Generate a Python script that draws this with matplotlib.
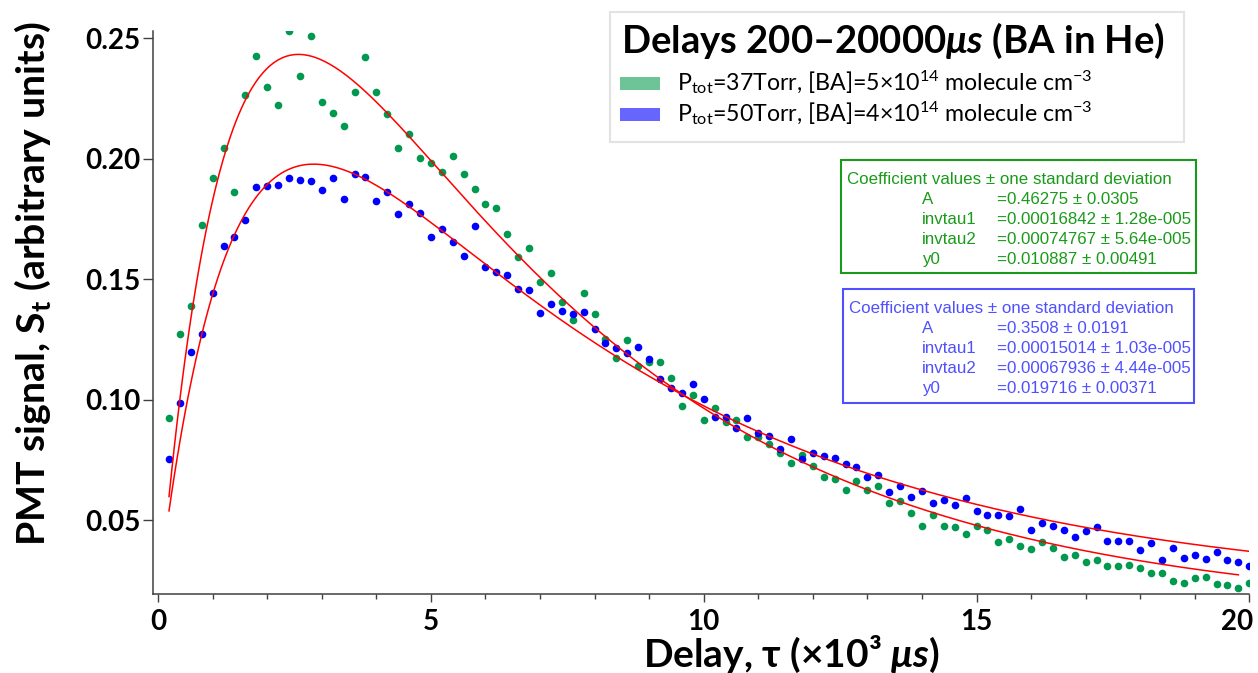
import numpy as np
import matplotlib
matplotlib.use("Agg")
import matplotlib.pyplot as plt
from matplotlib.patches import Rectangle
from matplotlib.ticker import MultipleLocator, FormatStrFormatter
from matplotlib.transforms import ScaledTranslation

# ---------------- data ----------------
delay_k_us = [0.2, 0.4, 0.6, 0.8, 1.0, 1.2, 1.4, 1.6, 1.8, 2.0,
              2.2, 2.4, 2.6, 2.8, 3.0, 3.2, 3.4, 3.6, 3.8, 4.0,
              4.2, 4.4, 4.6, 4.8, 5.0, 5.2, 5.4, 5.6, 5.8, 6.0,
              6.2, 6.4, 6.6, 6.8, 7.0, 7.2, 7.4, 7.6, 7.8, 8.0,
              8.2, 8.4, 8.6, 8.8, 9.0, 9.2, 9.4, 9.6, 9.8, 10.0,
              10.2, 10.4, 10.6, 10.8, 11.0, 11.2, 11.4, 11.6, 11.8, 12.0,
              12.2, 12.4, 12.6, 12.8, 13.0, 13.2, 13.4, 13.6, 13.8, 14.0,
              14.2, 14.4, 14.6, 14.8, 15.0, 15.2, 15.4, 15.6, 15.8, 16.0,
              16.2, 16.4, 16.6, 16.8, 17.0, 17.2, 17.4, 17.6, 17.8, 18.0,
              18.2, 18.4, 18.6, 18.8, 19.0, 19.2, 19.4, 19.6, 19.8, 20.0]

signal_37torr = [0.0923, 0.1273, 0.1388, 0.1727, 0.1919, 0.2046, 0.1861, 0.2263, 0.2427, 0.2297,
                 0.2223, 0.2530, 0.2345, 0.2508, 0.2236, 0.2189, 0.2135, 0.2276, 0.2422, 0.2278,
                 0.2186, 0.2044, 0.2102, 0.2005, 0.1981, 0.1947, 0.2010, 0.1937, 0.1873, 0.1812,
                 0.1797, 0.1688, 0.1591, 0.1630, 0.1490, 0.1526, 0.1407, 0.1332, 0.1443, 0.1355,
                 0.1251, 0.1175, 0.1249, 0.1139, 0.1158, 0.1157, 0.1090, 0.0973, 0.1020, 0.0917,
                 0.0967, 0.0907, 0.0917, 0.0846, 0.0846, 0.0815, 0.0780, 0.0739, 0.0770, 0.0725,
                 0.0678, 0.0671, 0.0627, 0.0663, 0.0627, 0.0644, 0.0571, 0.0580, 0.0529, 0.0476,
                 0.0523, 0.0476, 0.0473, 0.0444, 0.0476, 0.0461, 0.0409, 0.0422, 0.0395, 0.0381,
                 0.0409, 0.0384, 0.0349, 0.0355, 0.0327, 0.0335, 0.0309, 0.0309, 0.0313, 0.0302,
                 0.0280, 0.0280, 0.0248, 0.0241, 0.0261, 0.0263, 0.0236, 0.0230, 0.0218, 0.0240]

signal_50torr = [0.0754, 0.0985, 0.1200, 0.1273, 0.1444, 0.1639, 0.1674, 0.1745, 0.1883, 0.1886,
                 0.1890, 0.1922, 0.1911, 0.1908, 0.1872, 0.1919, 0.1832, 0.1938, 0.1926, 0.1825,
                 0.1861, 0.1770, 0.1811, 0.1774, 0.1676, 0.1709, 0.1656, 0.1598, 0.1721, 0.1551,
                 0.1529, 0.1517, 0.1461, 0.1456, 0.1361, 0.1399, 0.1370, 0.1355, 0.1366, 0.1295,
                 0.1234, 0.1214, 0.1195, 0.1218, 0.1168, 0.1088, 0.1049, 0.1027, 0.1066, 0.1002,
                 0.0930, 0.0930, 0.0884, 0.0923, 0.0861, 0.0851, 0.0795, 0.0837, 0.0754, 0.0778,
                 0.0767, 0.0760, 0.0732, 0.0721, 0.0680, 0.0687, 0.0617, 0.0642, 0.0597, 0.0620,
                 0.0572, 0.0583, 0.0563, 0.0591, 0.0540, 0.0523, 0.0522, 0.0518, 0.0547, 0.0460,
                 0.0489, 0.0478, 0.0460, 0.0431, 0.0457, 0.0473, 0.0415, 0.0415, 0.0415, 0.0377,
                 0.0407, 0.0335, 0.0384, 0.0342, 0.0355, 0.0339, 0.0368, 0.0337, 0.0327, 0.0312]

coef_names = ["A", "invtau1", "invtau2", "y0"]
coef_37torr = ["0.46275", "0.00016842", "0.00074767", "0.010887"]
sdev_37torr = ["0.0305", "1.28e-005", "5.64e-005", "0.00491"]
coef_50torr = ["0.3508", "0.00015014", "0.00067936", "0.019716"]
sdev_50torr = ["0.0191", "1.03e-005", "4.44e-005", "0.00371"]
fit_range_37 = [200, 19800]   # microseconds
fit_range_50 = [200, 20000]

label_37 = r"P$_\mathregular{tot}$=37Torr, [BA]=5×10$^\mathregular{14}$ molecule cm$^\mathregular{-3}$"
label_50 = r"P$_\mathregular{tot}$=50Torr, [BA]=4×10$^\mathregular{14}$ molecule cm$^\mathregular{-3}$"
legend_title = r"Delays 200–20000$\mathbfit{\mu s}$ (BA in He)"
xlabel = r"Delay, τ (×10³ $\mathbfit{\mu s}$)"
ylabel = r"PMT signal, S$_\mathbf{t}$ (arbitrary units)"

# ---------------- style ----------------
FAM = ["Lato", "DejaVu Sans"]
plt.rcParams["font.family"] = FAM
plt.rcParams["font.weight"] = "bold"
plt.rcParams["mathtext.fontset"] = "custom"
plt.rcParams["mathtext.rm"] = "Lato"
plt.rcParams["mathtext.it"] = "Lato:italic"
plt.rcParams["mathtext.bf"] = "Lato:bold"
plt.rcParams["mathtext.bfit"] = "Lato:italic:bold"

C_GREEN_PT = "#00994f"
C_BLUE_PT = "#0000ff"
C_GREEN_LEG = "#6cc497"
C_BLUE_LEG = "#6666ff"
C_GREEN_TXT = "#1a9a1a"
C_BLUE_TXT = "#5050ff"

W, H = 1258, 673
fig = plt.figure(figsize=(W / 100, H / 100), dpi=100)
renderer = fig.canvas.get_renderer()


def fx(px):
    return px / W


def fy(py):
    return 1 - py / H


def fit_fs(s, target, **kw):
    t = fig.text(0, 0, s, fontsize=20, **kw)
    w = t.get_window_extent(renderer).width
    t.remove()
    return 20 * target / w


AX_L, AX_R, AX_T, AX_B = 153, 1249.3, 31, 594
ax = fig.add_axes([fx(AX_L), fy(AX_B), (AX_R - AX_L) / W, (AX_B - AX_T) / H])


def model(t_us, c):
    A, k1, k2, y0 = [float(v) for v in c]
    return A * (np.exp(-k1 * t_us) - np.exp(-k2 * t_us)) + y0


ax.plot(delay_k_us, signal_37torr, "o", color=C_GREEN_PT, ms=5.5, mec="none", zorder=3)
ax.plot(delay_k_us, signal_50torr, "o", color=C_BLUE_PT, ms=5.5, mec="none", zorder=3)

for rng, c in ((fit_range_37, coef_37torr), (fit_range_50, coef_50torr)):
    tt = np.linspace(rng[0], rng[1], 400)
    ax.plot(tt / 1000.0, model(tt, c), color="#ff0000", lw=1.1, zorder=4)

ax.set_xlim(-0.0935, 20)
ax.set_ylim(0.01942, 0.25303)
for s in ("top", "right"):
    ax.spines[s].set_visible(False)
for s in ("left", "bottom"):
    ax.spines[s].set_color("#404040")
    ax.spines[s].set_linewidth(1.1)

ax.xaxis.set_major_locator(MultipleLocator(5))
ax.xaxis.set_minor_locator(MultipleLocator(1))
ax.yaxis.set_major_locator(MultipleLocator(0.05))
ax.yaxis.set_major_formatter(FormatStrFormatter("%.2f"))

tick_fs = fit_fs("0.25", 55, fontweight="bold")
ax.tick_params(axis="x", which="major", length=6, width=1, direction="out",
               color="#404040", pad=4.5, labelsize=tick_fs)
ax.tick_params(axis="x", which="minor", length=3.8, width=1, direction="out", color="#404040")
ax.tick_params(axis="y", which="major", length=7.2, width=1, direction="out",
               color="#404040", pad=2, labelsize=tick_fs)

fig.canvas.draw()
for lab in ax.get_xticklabels() + ax.get_yticklabels():
    lab.set_fontweight("bold")
# the last x tick label ("20") sits just inside the right edge, as in the reference
for tick in ax.xaxis.get_major_ticks():
    if abs(tick.get_loc() - 20) < 1e-9:
        lb = tick.label1
        lb.set_horizontalalignment("right")
        lb.set_transform(lb.get_transform() + ScaledTranslation(4 / 100, 0, fig.dpi_scale_trans))

# axis labels
xl_fs = fit_fs(xlabel, 297, fontweight="bold")
fig.text(fx(791.7), fy(667), xlabel, ha="center", va="baseline", fontsize=xl_fs, fontweight="bold")
yl_fs = fit_fs(ylabel, 525, fontweight="bold")
fig.text(fx(33), fy(283.5), ylabel, ha="center", va="center", rotation=90,
         fontsize=yl_fs, fontweight="bold")

# legend (drawn as a figure-level box)
fig.add_artist(Rectangle((fx(610), fy(141.7)), fx(1184) - fx(610), (141.7 - 11.7) / H,
                         transform=fig.transFigure, facecolor="white", edgecolor="#e3e3e3",
                         lw=1.5, zorder=5))
tl_fs = fit_fs(legend_title, 544, fontweight="bold")
fig.text(fx(620.7), fy(53.3), legend_title, ha="left", va="baseline", fontsize=tl_fs,
         fontweight="bold", zorder=6)
lab_fs = fit_fs(label_37, 415, fontweight="normal")
for lab, col, top, base in ((label_37, C_GREEN_LEG, 76.7, 90.0), (label_50, C_BLUE_LEG, 107.7, 121.0)):
    fig.add_artist(Rectangle((fx(620), fy(top + 13.3)), fx(660) - fx(620), 13.3 / H,
                             transform=fig.transFigure, facecolor=col, edgecolor="none", zorder=6))
    fig.text(fx(676.7), fy(base), lab, ha="left", va="baseline", fontsize=lab_fs,
             fontweight="normal", zorder=6)

# coefficient boxes
CFAM = ["Liberation Sans", "DejaVu Sans"]
header = "Coefficient values ± one standard deviation"
c_fs = fit_fs(header, 320.6, fontweight="normal", family=CFAM)
c_px = c_fs * 100 / 72
boxes = (
    (coef_37torr, sdev_37torr, C_GREEN_TXT, (841, 160, 1195.7, 273), 846.7, 177.7),
    (coef_50torr, sdev_50torr, C_BLUE_TXT, (843.3, 289, 1194.3, 403.3), 849.0, 306.7),
)
for vals, errs, col, (x0, y0, x1, y1), hx, row0 in boxes:
    fig.add_artist(Rectangle((fx(x0), fy(y1)), fx(x1) - fx(x0), (y1 - y0) / H,
                             transform=fig.transFigure, facecolor="white", edgecolor=col,
                             lw=1.5, zorder=5))
    kw = dict(fontsize=c_fs, fontweight="normal", family=CFAM, color=col,
              va="baseline", ha="left", zorder=6)
    fig.text(fx(hx), fy(row0 + 0.36 * c_px), header, **kw)
    for i, (n, v, e) in enumerate(zip(coef_names, vals, errs)):
        yb = row0 + 20 * (i + 1) + 0.36 * c_px
        fig.text(fx(922), fy(yb), n, **kw)
        fig.text(fx(996.7), fy(yb), "=" + v + " ± " + e, **kw)

fig.savefig("out.png", dpi=100)
